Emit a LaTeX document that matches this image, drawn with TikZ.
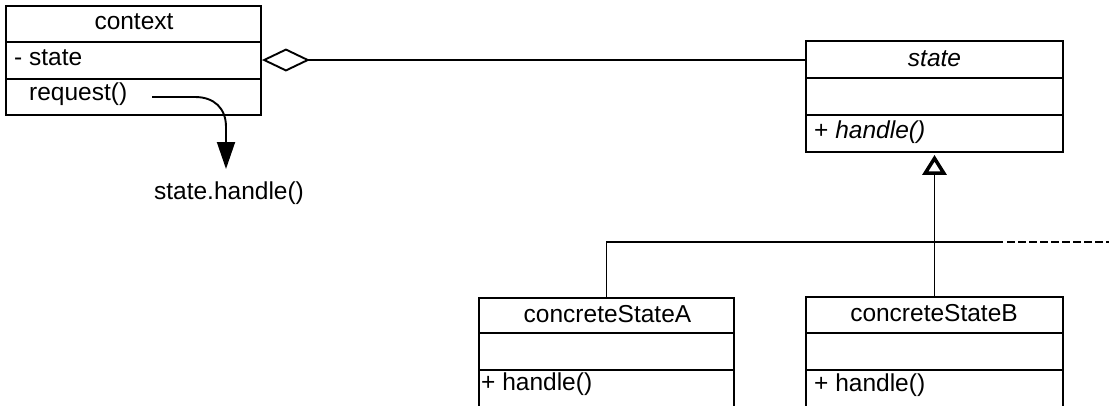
\documentclass[tikz,border=0pt]{standalone}
\usepackage{fontspec}
\setmainfont{Liberation Sans}
\usetikzlibrary{arrows.meta}
\begin{document}
\begin{tikzpicture}[x=1pt,y=-1pt,
  cls/.style={draw, line width=1.9pt, rectangle, inner sep=0pt},
  txt/.style={inner sep=0pt, font=\fontsize{24.5}{29}\selectfont},
  ln/.style={line width=1.9pt},
]
\useasboundingbox (0,0) rectangle (1109,405);
\clip (0,0) rectangle (1109,405);
\fill[white] (0,0) rectangle (1109,405);

% context class
\node[cls, minimum width=255pt, minimum height=109pt] (context) at (133.5,60.5) {};
\draw[ln] (6,42) -- (261,42);
\draw[ln] (6,79) -- (261,79);
\node[txt, anchor=base] (ctxname) at (134,29.5) {context};
\node[txt, anchor=base west] (ctxattr) at (14,65.7) {- state};
\node[txt, anchor=base west] (ctxop) at (29,100.7) {request()};

% state class
\node[cls, minimum width=257pt, minimum height=111pt] (state) at (934.5,96.5) {};
\draw[ln] (806,78) -- (1063,78);
\draw[ln] (806,115) -- (1063,115);
\node[txt, anchor=base, font=\fontsize{24.5}{29}\selectfont\itshape] (statename) at (934.5,66) {state};
\node[txt, anchor=base west] (stateop) at (814,138.3) {+ \textit{handle()}};

% concreteStateA
\node[cls, minimum width=255pt, minimum height=150pt] (csa) at (606.5,373) {};
\draw[ln] (479,333) -- (734,333);
\draw[ln] (479,370) -- (734,370);
\node[txt, anchor=base] (csaname) at (607.5,322) {concreteStateA};
\node[txt, anchor=base west] (csaop) at (481,390) {+ handle()};

% concreteStateB
\node[cls, minimum width=257pt, minimum height=150pt] (csb) at (934.5,372) {};
\draw[ln] (806,333) -- (1063,333);
\draw[ln] (806,370) -- (1063,370);
\node[txt, anchor=base] (csbname) at (934,321) {concreteStateB};
\node[txt, anchor=base west] (csbop) at (814,391.5) {+ handle()};

% call note
\node[txt, anchor=base] (call) at (229,199) {state.handle()};
\coordinate (reqstart) at (152,97);
\coordinate (reqtip) at (226,169);
\draw[ln, -{Triangle[length=27pt,width=18pt]}] (reqstart) -- (195,97) .. controls (214,97) and (226,108) .. (226,127) -- (reqtip);

% aggregation
\draw[ln, {Diamond[open,fill=white,length=48pt,width=23pt]}-] (context.east |- 0,60) -- (state.west |- 0,60);

% inheritance
\coordinate (barend) at (1003,242);
\coordinate (barfar) at (1115,242);
\draw[ln] (csa.north) |- (barend);
\draw[ln, dash pattern=on 7.5pt off 3.5pt] ([xshift=4pt]barend) -- (barfar);
\draw[ln, shorten >=2pt, -{Triangle[open,fill=white,length=20pt,width=24pt,line width=3.5pt]}] (csb.north) -- (state.south);
\end{tikzpicture}
\end{document}
